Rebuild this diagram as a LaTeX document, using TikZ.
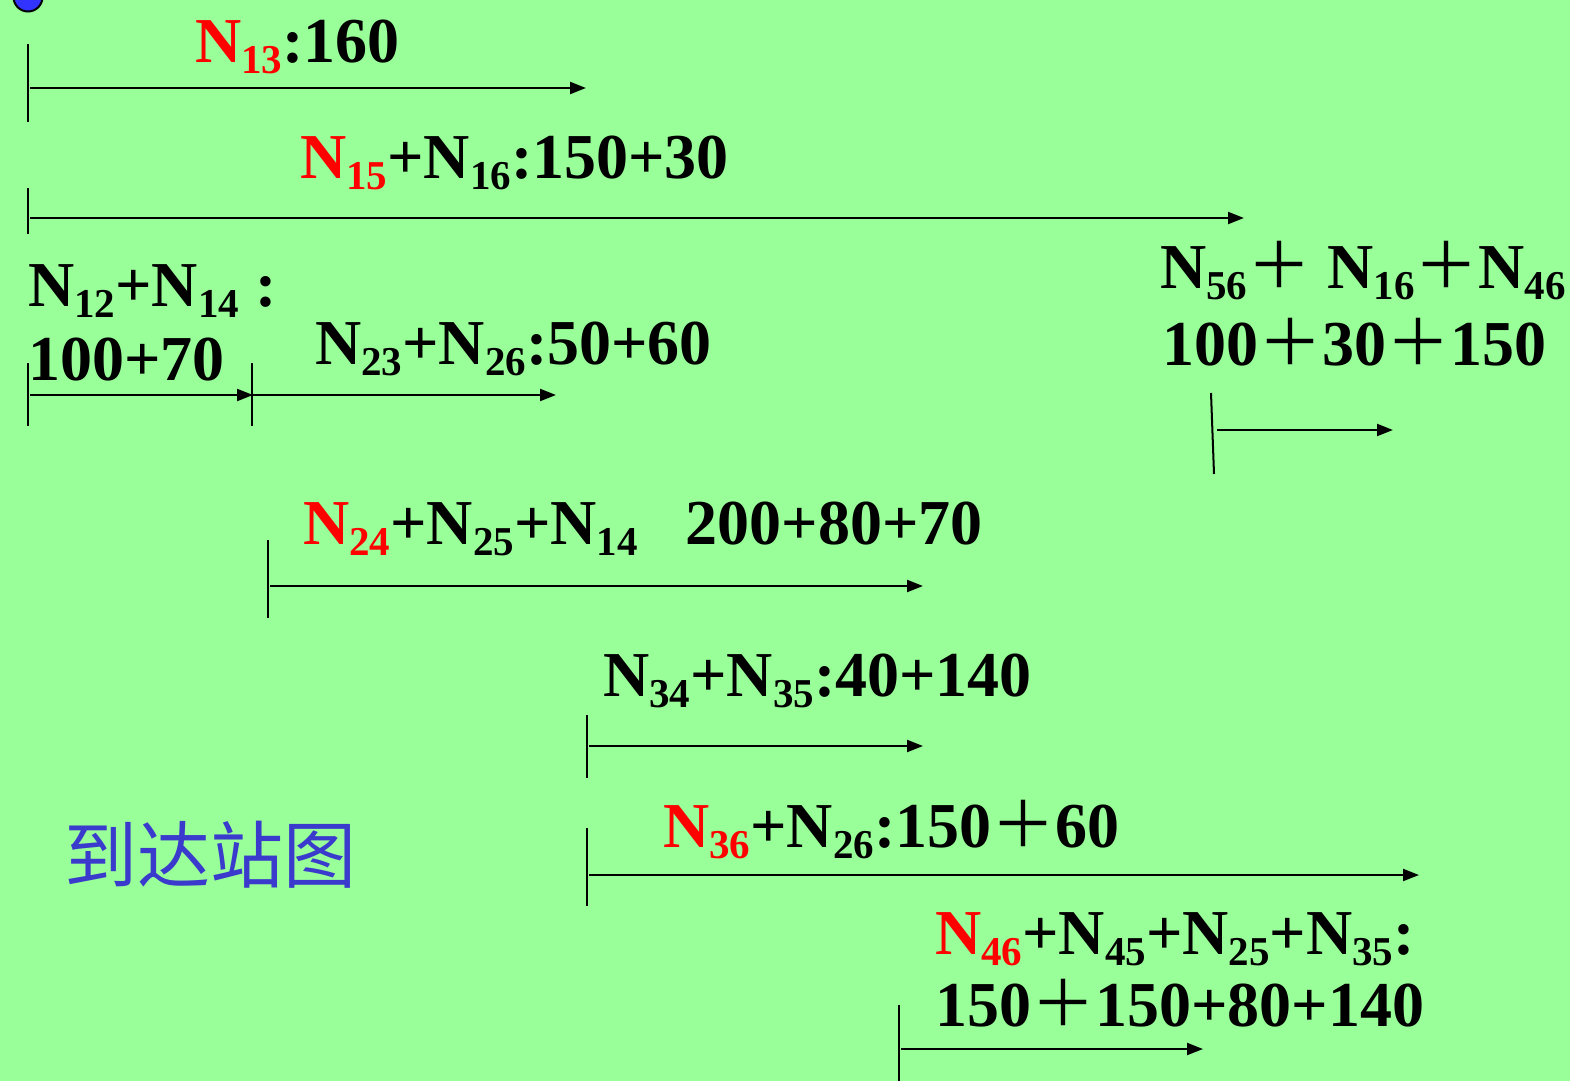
\documentclass[tikz,border=0pt]{standalone}
\usepackage{fontspec}
\setmainfont{Liberation Serif}
\newfontfamily\cjk{Noto Sans CJK SC}
\usetikzlibrary{arrows.meta}
\definecolor{bggreen}{RGB}{153,255,153}
\definecolor{titleblue}{RGB}{58,58,205}
\definecolor{dotblue}{RGB}{51,51,255}
% N with a lowered subscript, black or red
\newcommand\Nsb[1]{N\raisebox{-11pt}{\fontsize{41}{41}\selectfont #1}}
\newcommand\RNsb[1]{\textcolor{red}{\Nsb{#1}}}
% full-width plus sign
\newcommand\fwplus{{\cjk\mdseries ＋}}
\tikzset{
  lbl/.style={anchor=base west, inner sep=0pt, font=\fontsize{64}{70}\selectfont\bfseries},
  arr/.style={line width=2.2pt, -{Triangle[length=16pt,width=12pt]}},
  tick/.style={line width=2pt},
}
\begin{document}
\begin{tikzpicture}[x=1pt,y=-1pt]
\fill[bggreen] (0,0) rectangle (1570,1081);
\useasboundingbox (0,0) rectangle (1570,1081);

% marker in the corner
\filldraw[fill=dotblue, draw=black, line width=2pt] (28,-3) ellipse [x radius=14.5, y radius=14.5];

% N13
\node[lbl] (l13) at (195,63) {\RNsb{13}:160};
\coordinate (t1a) at (28,44); \coordinate (t1b) at (28,122);
\coordinate (a1s) at (30,88); \coordinate (a1e) at (586,88);
\draw[tick] (t1a) -- (t1b);
\draw[arr] (a1s) -- (a1e);

% N15 + N16
\node[lbl] (l15) at (300,178) {\RNsb{15}+\Nsb{16}:150+30};
\coordinate (t2a) at (28,188); \coordinate (t2b) at (28,234);
\coordinate (a2s) at (30,218); \coordinate (a2e) at (1244,218);
\draw[tick] (t2a) -- (t2b);
\draw[arr] (a2s) -- (a2e);

% N12 + N14 then N23 + N26
\node[lbl] (l12) at (28,306) {\Nsb{12}+\Nsb{14} :};
\node[lbl] (l12v) at (28,380) {100+70};
\node[lbl] (l23) at (315,364) {\Nsb{23}+\Nsb{26}:50+60};
\coordinate (t3a) at (28,363); \coordinate (t3b) at (28,426);
\coordinate (t4a) at (252,363); \coordinate (t4b) at (252,426);
\coordinate (a3s) at (30,395); \coordinate (a3e) at (253,395);
\coordinate (a4s) at (253,395); \coordinate (a4e) at (556,395);
\draw[tick] (t3a) -- (t3b);
\draw[tick] (t4a) -- (t4b);
\draw[arr] (a3s) -- (a3e);
\draw[arr] (a4s) -- (a4e);

% N56 + N16 + N46
\node[lbl] (l56) at (1160,288) {\Nsb{56}\fwplus\ \Nsb{16}\fwplus\Nsb{46}};
\node[lbl] (l56v) at (1162,365) {100\fwplus30\fwplus150};
\coordinate (t5a) at (1211,393); \coordinate (t5b) at (1214,474);
\coordinate (a5s) at (1217,430); \coordinate (a5e) at (1393,430);
\draw[tick] (t5a) -- (t5b);
\draw[arr] (a5s) -- (a5e);

% N24 + N25 + N14
\node[lbl] (l24) at (303,544) {\RNsb{24}+\Nsb{25}+\Nsb{14}\hspace{48pt}200+80+70};
\coordinate (t6a) at (268,540); \coordinate (t6b) at (268,618);
\coordinate (a6s) at (270,586); \coordinate (a6e) at (923,586);
\draw[tick] (t6a) -- (t6b);
\draw[arr] (a6s) -- (a6e);

% N34 + N35
\node[lbl] (l34) at (603,696) {\Nsb{34}+\Nsb{35}:40+140};
\coordinate (t7a) at (587,715); \coordinate (t7b) at (587,778);
\coordinate (a7s) at (589,746); \coordinate (a7e) at (923,746);
\draw[tick] (t7a) -- (t7b);
\draw[arr] (a7s) -- (a7e);

% N36 + N26
\node[lbl] (l36) at (663,847) {\RNsb{36}+\Nsb{26}:150\fwplus60};
\coordinate (t8a) at (587,828); \coordinate (t8b) at (587,906);
\coordinate (a8s) at (589,875); \coordinate (a8e) at (1419,875);
\draw[tick] (t8a) -- (t8b);
\draw[arr] (a8s) -- (a8e);

% title
\node[anchor=base west, inner sep=0pt, text=titleblue, font=\cjk\fontsize{73}{73}\selectfont] (title) at (64,882) {到达站图};

% N46 + N45 + N25 + N35
\node[lbl] (l46) at (935,954) {\RNsb{46}+\Nsb{45}+\Nsb{25}+\Nsb{35}:};
\node[lbl] (l46v) at (935,1026) {150\fwplus150+80+140};
\coordinate (t9a) at (899,1005); \coordinate (t9b) at (899,1081);
\coordinate (a9s) at (901,1049); \coordinate (a9e) at (1203,1049);
\draw[tick] (t9a) -- (t9b);
\draw[arr] (a9s) -- (a9e);
\end{tikzpicture}
\end{document}
